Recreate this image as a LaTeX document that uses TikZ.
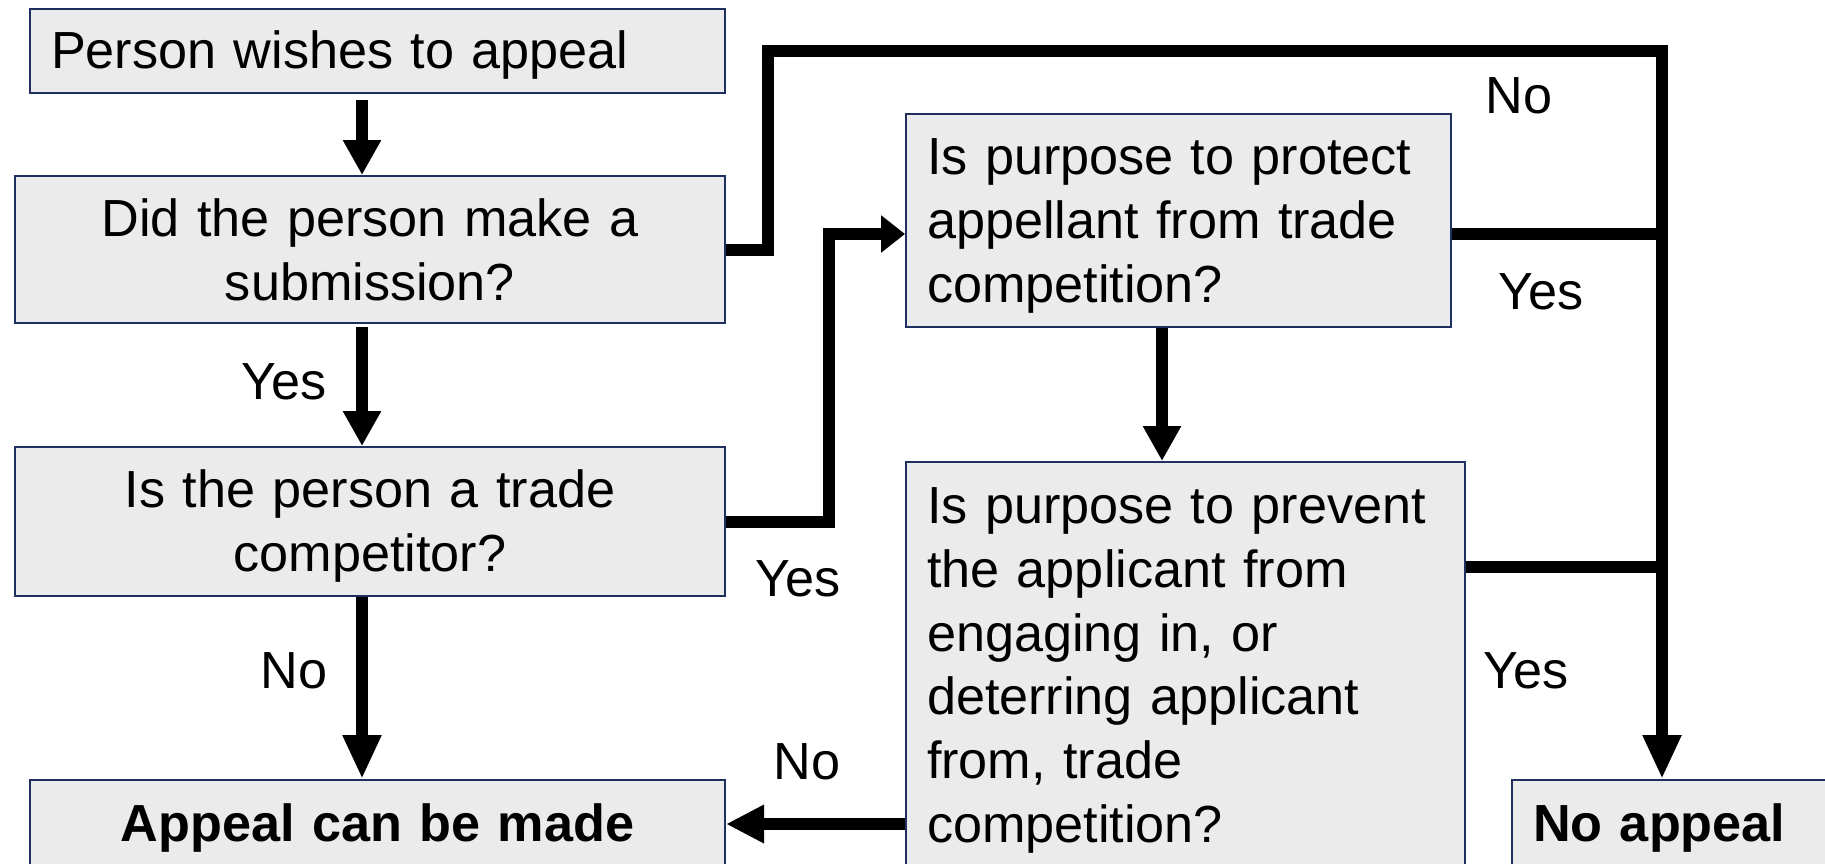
\documentclass[tikz,border=0pt]{standalone}
\usepackage{fontspec}
\setmainfont{Liberation Sans}
\usetikzlibrary{arrows.meta}
\definecolor{boxfill}{HTML}{EBEBEB}
\definecolor{boxline}{HTML}{1F2F5F}
\newcommand\flowfont{\fontsize{26.1}{31.9}\selectfont}
\newcommand\lift{\rule{0pt}{23.4pt}}
\begin{document}
\begin{tikzpicture}[
            x=0.5pt,
            y=-0.5pt,
            every node/.style={
                font=\flowfont,
                inner sep=0pt
            },
            box/.style={
                draw=boxline,
                fill=boxfill,
                line width=1pt,
                anchor=north west,
                inner xsep=10.5pt,
                inner ysep=0pt
            },
            strong/.style={font=\flowfont\bfseries},
            flow/.style={line width=6pt, -{Triangle[length=17.5pt,width=18pt]}},
            link/.style={line width=6pt}
        ]
            \useasboundingbox (0,0) rectangle (1825,863);
            \clip (0,0) rectangle (1825,863);

            \node[box, text width=326.5pt, minimum height=42pt, align=left] (wish) at (29,8) {\lift Person wishes to appeal};
            \node[box, text width=334pt, minimum height=73.5pt, align=center] (submit) at (14,175) {Did the person make a\\submission?};
            \node[box, text width=334pt, minimum height=74.5pt, align=center] (trade) at (14,446) {\lift Is the person a trade\\competitor?};
            \node[box, strong, text width=326.5pt, minimum height=44pt, align=center] (appeal) at (29,779) {\lift Appeal can be made};
            \node[box, text width=251.5pt, minimum height=106.5pt, align=left] (protect) at (905,113) {\lift Is purpose to protect\\appellant from trade\\competition?};
            \node[box, text width=258.5pt, minimum height=203pt, align=left] (prevent) at (905,461) {\lift Is purpose to prevent\\the applicant from\\engaging in, or\\deterring applicant\\from, trade\\competition?};
            \node[box, strong, text width=143.5pt, minimum height=44pt, align=left] (noappeal) at (1511,779) {\lift No appeal};

            \coordinate (spine) at (362,0);
            \coordinate (hop) at (768,51);
            \coordinate (trunk) at (1662,51);
            \coordinate (entry) at (829,234);
            \coordinate (drop) at (1162,0);
            \coordinate (tap) at (1662,567);

            \draw[flow, shorten <=3pt] (wish.south -| spine)--(submit.north -| spine);
            \draw[flow, shorten <=1.5pt] (submit.south -| spine)--(trade.north -| spine);
            \draw[flow, -{Triangle[length=22pt,width=18pt]}] (trade.south -| spine)--(appeal.north -| spine);
            \draw[flow, -{Triangle[length=22pt,width=18pt]}] (submit.east) -| (hop)--(trunk)--(trunk |- noappeal.north);
            \draw[link] (protect.east |- entry)--(trunk |- entry);
            \draw[link] (prevent.east |- tap)--(tap);
            \draw[flow, -{Triangle[length=12pt,width=18pt]}] (trade.east) -| (entry)--(protect.west |- entry);
            \draw[flow] (protect.south -| drop)--(prevent.north -| drop);
            \draw[flow, -{Triangle[length=19pt,width=18pt]}] (prevent.west |- appeal.east)--(appeal.east);

            \node (no1) at (1519,96) {No};
            \node (yes1) at (1541,292) {Yes};
            \node (yes2) at (1526,671) {Yes};
            \node (yes3) at (798,579) {Yes};
            \node (no2) at (807,762) {No};
            \node (yes4) at (284,382) {Yes};
            \node (no3) at (294,671) {No};
        \end{tikzpicture}
\end{document}
